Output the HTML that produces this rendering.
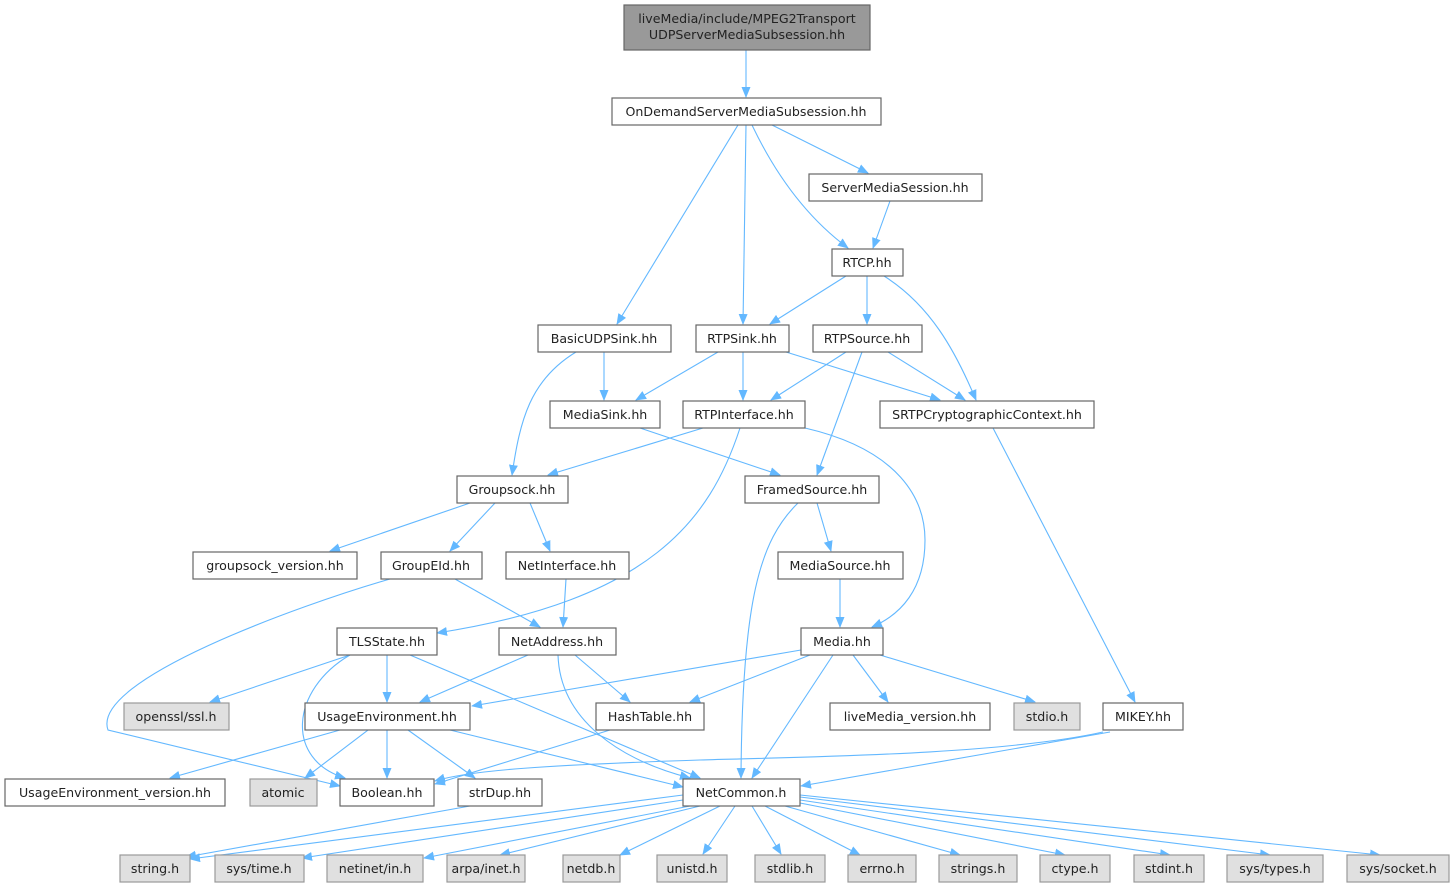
<!DOCTYPE html>
<html><head><meta charset="utf-8"><style>
html,body{margin:0;padding:0;background:#fff;}
svg{display:block}
text{font-family:"DejaVu Sans","Liberation Sans",sans-serif;font-size:12.6px;fill:#222;text-anchor:middle}
.n rect{fill:#fff;stroke:#666;stroke-width:1.2}
.g rect{fill:#e0e0e0;stroke:#999;stroke-width:1.2}
.e path,.e line{stroke:#63b8ff;stroke-width:1.1;fill:none;marker-end:url(#a)}
</style></head><body>
<svg width="1454" height="888" viewBox="0 0 1454 888" xmlns="http://www.w3.org/2000/svg">
<defs><marker id="a" markerUnits="userSpaceOnUse" markerWidth="11" markerHeight="10" refX="10" refY="4.5" orient="auto"><path d="M0,0 L11,4.5 L0,9 Z" fill="#63b8ff"/></marker></defs>
<g class="e">
<line x1="746" y1="50" x2="746" y2="97"/>
<line x1="738" y1="125" x2="617" y2="324"/>
<line x1="746" y1="125" x2="743" y2="324"/>
<path d="M752,125 Q790,205 848,248"/>
<line x1="772" y1="125" x2="868" y2="173"/>
<line x1="890" y1="201" x2="873" y2="248"/>
<line x1="846" y1="276" x2="770" y2="324"/>
<line x1="867" y1="276" x2="867" y2="324"/>
<path d="M884,276 C930,305 955,350 976,400"/>
<line x1="604" y1="352" x2="604" y2="400"/>
<path d="M576,352 C530,380 520,420 512,475"/>
<line x1="718" y1="352" x2="636" y2="400"/>
<line x1="743" y1="352" x2="743" y2="400"/>
<line x1="786" y1="352" x2="940" y2="400"/>
<line x1="846" y1="352" x2="771" y2="400"/>
<line x1="888" y1="352" x2="965" y2="400"/>
<line x1="862" y1="352" x2="817" y2="475"/>
<line x1="640" y1="428" x2="780" y2="475"/>
<line x1="703" y1="428" x2="548" y2="475"/>
<path d="M740,428 C710,520 650,600 437,633"/>
<path d="M805,428 C900,450 925,500 925,540 C925,590 900,615 872,627"/>
<line x1="993" y1="428" x2="1135" y2="702"/>
<line x1="817" y1="503" x2="831" y2="551"/>
<path d="M798,503 C760,540 742,600 741,778"/>
<line x1="840" y1="579" x2="840" y2="627"/>
<line x1="470" y1="503" x2="330" y2="551"/>
<line x1="495" y1="503" x2="450" y2="551"/>
<line x1="530" y1="503" x2="550" y2="551"/>
<path d="M390,579 C300,605 90,680 108,730 L340,786"/>
<line x1="455" y1="579" x2="540" y2="627"/>
<line x1="566" y1="579" x2="563" y2="627"/>
<line x1="350" y1="655" x2="210" y2="702"/>
<line x1="387" y1="655" x2="387" y2="702"/>
<path d="M350,655 C290,690 285,760 345,778"/>
<line x1="410" y1="655" x2="700" y2="778"/>
<line x1="528" y1="655" x2="420" y2="702"/>
<line x1="575" y1="655" x2="630" y2="702"/>
<path d="M558,655 C560,720 620,760 690,778"/>
<line x1="801" y1="650" x2="472" y2="706"/>
<line x1="810" y1="655" x2="690" y2="702"/>
<line x1="833" y1="655" x2="752" y2="778"/>
<line x1="853" y1="655" x2="888" y2="702"/>
<line x1="880" y1="655" x2="1035" y2="702"/>
<path d="M1103,732 C1000,755 800,757 700,760 C550,765 470,770 435,781"/>
<line x1="1110" y1="732" x2="801" y2="786"/>
<line x1="610" y1="730" x2="435" y2="784"/>
<line x1="340" y1="730" x2="170" y2="778"/>
<line x1="368" y1="730" x2="305" y2="778"/>
<line x1="387" y1="730" x2="387" y2="778"/>
<line x1="408" y1="730" x2="475" y2="778"/>
<line x1="450" y1="730" x2="683" y2="787"/>
<line x1="470" y1="806" x2="186" y2="857"/>
<line x1="683" y1="795" x2="190" y2="859"/>
<line x1="683" y1="800" x2="302" y2="858"/>
<line x1="690" y1="806" x2="424" y2="858"/>
<line x1="700" y1="806" x2="500" y2="855"/>
<line x1="720" y1="806" x2="620" y2="855"/>
<line x1="735" y1="806" x2="703" y2="854"/>
<line x1="752" y1="806" x2="781" y2="854"/>
<line x1="765" y1="806" x2="860" y2="855"/>
<line x1="785" y1="806" x2="960" y2="855"/>
<line x1="800" y1="803" x2="1065" y2="855"/>
<line x1="800" y1="800" x2="1170" y2="855"/>
<line x1="800" y1="797" x2="1270" y2="855"/>
<line x1="800" y1="795" x2="1380" y2="855"/>
</g>
<g>
<rect x="624" y="5" width="246" height="45" fill="#999" stroke="#666" stroke-width="1.2"/>
<text x="747" y="23">liveMedia/include/MPEG2Transport</text>
<text x="747" y="39">UDPServerMediaSubsession.hh</text>
</g>
<g class="n">
<rect x="612" y="98" width="269" height="27"/><text x="746" y="116">OnDemandServerMediaSubsession.hh</text>
<rect x="809" y="174" width="173" height="27"/><text x="895" y="192">ServerMediaSession.hh</text>
<rect x="832" y="249" width="71" height="27"/><text x="867" y="267">RTCP.hh</text>
<rect x="538" y="325" width="133" height="27"/><text x="604" y="343">BasicUDPSink.hh</text>
<rect x="696" y="325" width="93" height="27"/><text x="742" y="343">RTPSink.hh</text>
<rect x="813" y="325" width="109" height="27"/><text x="867" y="343">RTPSource.hh</text>
<rect x="550" y="401" width="110" height="27"/><text x="605" y="419">MediaSink.hh</text>
<rect x="683" y="401" width="122" height="27"/><text x="744" y="419">RTPInterface.hh</text>
<rect x="880" y="401" width="214" height="27"/><text x="987" y="419">SRTPCryptographicContext.hh</text>
<rect x="457" y="476" width="111" height="27"/><text x="512" y="494">Groupsock.hh</text>
<rect x="745" y="476" width="134" height="27"/><text x="812" y="494">FramedSource.hh</text>
<rect x="193" y="552" width="164" height="27"/><text x="275" y="570">groupsock_version.hh</text>
<rect x="381" y="552" width="101" height="27"/><text x="431" y="570">GroupEId.hh</text>
<rect x="506" y="552" width="123" height="27"/><text x="567" y="570">NetInterface.hh</text>
<rect x="778" y="552" width="125" height="27"/><text x="840" y="570">MediaSource.hh</text>
<rect x="337" y="628" width="100" height="27"/><text x="387" y="646">TLSState.hh</text>
<rect x="499" y="628" width="117" height="27"/><text x="557" y="646">NetAddress.hh</text>
<rect x="801" y="628" width="82" height="27"/><text x="842" y="646">Media.hh</text>
<rect x="305" y="703" width="165" height="27"/><text x="387" y="721">UsageEnvironment.hh</text>
<rect x="596" y="703" width="108" height="27"/><text x="650" y="721">HashTable.hh</text>
<rect x="830" y="703" width="160" height="27"/><text x="910" y="721">liveMedia_version.hh</text>
<rect x="1103" y="703" width="80" height="27"/><text x="1143" y="721">MIKEY.hh</text>
<rect x="5" y="779" width="220" height="27"/><text x="115" y="797">UsageEnvironment_version.hh</text>
<rect x="340" y="779" width="94" height="27"/><text x="387" y="797">Boolean.hh</text>
<rect x="458" y="779" width="84" height="27"/><text x="500" y="797">strDup.hh</text>
<rect x="683" y="779" width="117" height="27"/><text x="741" y="797">NetCommon.h</text>
</g>
<g class="g">
<rect x="124" y="703" width="105" height="27"/><text x="176" y="721">openssl/ssl.h</text>
<rect x="1014" y="703" width="66" height="27"/><text x="1047" y="721">stdio.h</text>
<rect x="250" y="779" width="67" height="27"/><text x="283" y="797">atomic</text>
<rect x="120" y="855" width="70" height="27"/><text x="155" y="873">string.h</text>
<rect x="215" y="855" width="89" height="27"/><text x="259" y="873">sys/time.h</text>
<rect x="327" y="855" width="96" height="27"/><text x="375" y="873">netinet/in.h</text>
<rect x="447" y="855" width="78" height="27"/><text x="486" y="873">arpa/inet.h</text>
<rect x="563" y="855" width="57" height="27"/><text x="591" y="873">netdb.h</text>
<rect x="657" y="855" width="70" height="27"/><text x="692" y="873">unistd.h</text>
<rect x="755" y="855" width="70" height="27"/><text x="790" y="873">stdlib.h</text>
<rect x="848" y="855" width="68" height="27"/><text x="882" y="873">errno.h</text>
<rect x="939" y="855" width="78" height="27"/><text x="978" y="873">strings.h</text>
<rect x="1040" y="855" width="70" height="27"/><text x="1075" y="873">ctype.h</text>
<rect x="1134" y="855" width="70" height="27"/><text x="1169" y="873">stdint.h</text>
<rect x="1227" y="855" width="96" height="27"/><text x="1275" y="873">sys/types.h</text>
<rect x="1347" y="855" width="102" height="27"/><text x="1398" y="873">sys/socket.h</text>
</g>
</svg>
</body></html>
